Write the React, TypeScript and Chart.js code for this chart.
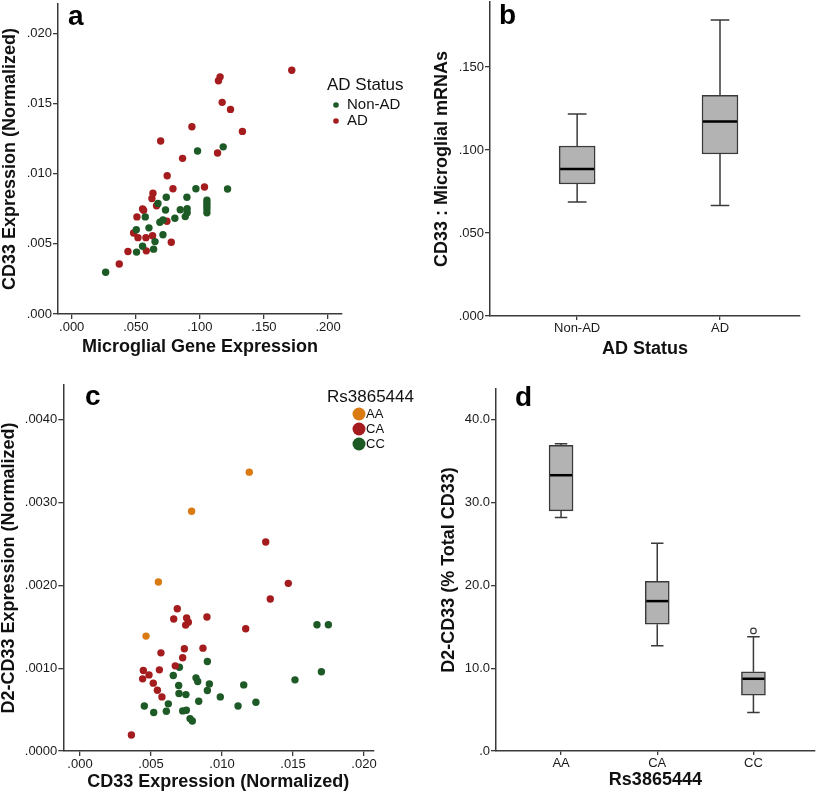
import React, { useEffect, useRef } from 'react';
import { Chart, registerables } from 'chart.js';

Chart.register(...registerables);

const W = 820;
const H = 795;
const FONT = "'Liberation Sans', Arial, Helvetica, sans-serif";
const AXIS_COLOR = '#3a3a3a';
const TEXT_COLOR = '#111111';
const RED = '#a51c1e';
const GREEN = '#1d5a26';
const ORANGE = '#d97a12';
const BOX_FILL = '#b3b3b3';
const BOX_LINE = '#3a3a3a';

// ---------- Panel a: CD33 vs microglial gene expression ----------
const aNonAdX = [0.1182, 0.0982, 0.1216, 0.0969, 0.0899, 0.0738, 0.1055, 0.1055, 0.1055, 0.1055, 0.1055, 0.0673, 0.0732, 0.0847, 0.0901, 0.0901, 0.0886, 0.0574, 0.0805, 0.0712, 0.0688, 0.0603, 0.0504, 0.0712, 0.065, 0.0553, 0.0639, 0.0506, 0.0265];
const aNonAdY = [0.01191, 0.01161, 0.00891, 0.00893, 0.00832, 0.00832, 0.00811, 0.0079, 0.00769, 0.00748, 0.00722, 0.00788, 0.00741, 0.00743, 0.0075, 0.00722, 0.00694, 0.00692, 0.00682, 0.0067, 0.00654, 0.00614, 0.006, 0.00565, 0.00516, 0.00483, 0.00462, 0.00441, 0.00298];
const aAdX = [0.1717, 0.1158, 0.1145, 0.1174, 0.1239, 0.1332, 0.0938, 0.0694, 0.1138, 0.0865, 0.0745, 0.079, 0.1036, 0.0634, 0.0626, 0.0662, 0.0561, 0.0553, 0.0509, 0.0743, 0.0483, 0.0517, 0.0579, 0.0631, 0.0777, 0.0582, 0.0439, 0.0371];
const aAdY = [0.01737, 0.0169, 0.01662, 0.01508, 0.01458, 0.01301, 0.01334, 0.01233, 0.01147, 0.01109, 0.00985, 0.00893, 0.00905, 0.0086, 0.00823, 0.00771, 0.00739, 0.00748, 0.00692, 0.00661, 0.00577, 0.00544, 0.00544, 0.00558, 0.00511, 0.0045, 0.00445, 0.00356];
const aXTicks = [0, 0.05, 0.1, 0.15, 0.2];
const aYTicks = [0, 0.005, 0.01, 0.015, 0.02];
const aLegendTitle = 'AD Status';

// ---------- Panel b: CD33 : microglial mRNAs by AD status ----------
const bCategories = ['Non-AD', 'AD'];
const bMin = [0.0687, 0.0665];
const bQ1 = [0.0795, 0.0976];
const bMedian = [0.0886, 0.1171];
const bQ3 = [0.1024, 0.1329];
const bMax = [0.1217, 0.1783];
const bYTicks = [0, 0.05, 0.1, 0.15];

// ---------- Panel c: D2-CD33 vs CD33 by genotype ----------
const cAAX = [0.01192, 0.00786, 0.00552, 0.00465];
const cAAY = [0.003367, 0.002895, 0.00204, 0.001387];
const cCAX = [0.01308, 0.01467, 0.0134, 0.01167, 0.00685, 0.0066, 0.00751, 0.00763, 0.00744, 0.00894, 0.00735, 0.00866, 0.0057, 0.00723, 0.00671, 0.00446, 0.00559, 0.00486, 0.00441, 0.00516, 0.00545, 0.00577, 0.00362];
const cCAY = [0.002524, 0.002024, 0.001835, 0.001476, 0.001718, 0.001593, 0.001605, 0.001556, 0.00152, 0.001617, 0.001234, 0.001242, 0.001185, 0.001125, 0.001028, 0.000972, 0.00098, 0.000919, 0.000871, 0.000819, 0.000734, 0.000653, 0.000194];
const cCCX = [0.01669, 0.01749, 0.017, 0.01514, 0.01153, 0.01239, 0.01113, 0.00988, 0.00897, 0.00911, 0.00897, 0.00817, 0.00829, 0.00836, 0.007, 0.00657, 0.00695, 0.00697, 0.00746, 0.00622, 0.00608, 0.00723, 0.00749, 0.00775, 0.00791, 0.00519, 0.00453];
const cCCY = [0.001524, 0.001524, 0.000956, 0.000859, 0.000798, 0.000589, 0.000544, 0.000653, 0.001081, 0.00081, 0.00073, 0.000883, 0.000839, 0.000601, 0.001012, 0.000911, 0.00079, 0.000694, 0.000681, 0.000569, 0.00048, 0.000484, 0.000492, 0.000391, 0.000363, 0.000464, 0.000544];
const cXTicks = [0, 0.005, 0.01, 0.015, 0.02];
const cYTicks = [0, 0.001, 0.002, 0.003, 0.004];
const cLegendTitle = 'Rs3865444';

// ---------- Panel d: D2-CD33 % by genotype ----------
const dCategories = ['AA', 'CA', 'CC'];
const dMin = [28.2, 12.7, 4.66];
const dQ1 = [29.0, 15.3, 6.75];
const dMedian = [33.3, 18.1, 8.72];
const dQ3 = [36.9, 20.5, 9.57];
const dMax = [37.1, 25.1, 13.8];
const dOutlierCat = [3];
const dOutlierVal = [14.5];
const dYTicks = [0, 10, 20, 30, 40];

const zip = (xs: number[], ys: number[]) => xs.map((x, i) => ({ x, y: ys[i] }));
const fmtDec = (d: number) => (v: number) => Number(v).toFixed(d).replace(/^0\./, '.');

function linAxis(o: any) {
  return {
    type: 'linear',
    min: o.min,
    max: o.max,
    offset: false,
    afterBuildTicks: (s: any) => {
      s.ticks = o.ticks.map((v: number) => ({ value: v }));
    },
    afterFit: (s: any) => {
      if (o.horizontal) s.height = o.size;
      else s.width = o.size;
      s.paddingTop = 0;
      s.paddingBottom = 0;
      s.paddingLeft = 0;
      s.paddingRight = 0;
    },
    grid: {
      display: true,
      offset: false,
      drawOnChartArea: false,
      drawTicks: true,
      tickLength: o.tickLength ?? 5,
      color: AXIS_COLOR,
      lineWidth: 1.3,
    },
    border: { display: true, color: AXIS_COLOR, width: 1.5 },
    ticks: {
      callback: (v: number) => o.fmt(v),
      font: { family: FONT, size: 13 },
      color: '#1a1a1a',
      padding: o.tickPad ?? 1,
      autoSkip: false,
      maxRotation: 0,
      minRotation: 0,
    },
    title: {
      display: true,
      text: o.title,
      color: TEXT_COLOR,
      padding: 0,
      font: { family: FONT, size: 18, weight: 'bold', lineHeight: 1 },
    },
  };
}

function decorPlugin(letter: string, lx: number, ly: number, legend: any) {
  return {
    id: 'decor' + letter,
    afterDraw(chart: any) {
      const ctx = chart.ctx;
      ctx.save();
      ctx.fillStyle = '#000';
      ctx.font = `bold 28px ${FONT}`;
      ctx.textAlign = 'left';
      ctx.textBaseline = 'alphabetic';
      ctx.fillText(letter, lx, ly);
      if (legend) {
        ctx.font = `17px ${FONT}`;
        ctx.textBaseline = 'middle';
        ctx.fillStyle = '#111';
        ctx.fillText(legend.title, legend.titleX, legend.titleY);
        ctx.font = `${legend.itemFont}px ${FONT}`;
        chart.data.datasets.forEach((ds: any, i: number) => {
          const y = legend.itemY + i * legend.itemStep;
          ctx.beginPath();
          ctx.fillStyle = ds.backgroundColor;
          ctx.arc(legend.dotX, y, legend.dotR, 0, Math.PI * 2);
          ctx.fill();
          ctx.fillStyle = '#111';
          ctx.fillText(ds.label, legend.textX, y);
        });
      }
      ctx.restore();
    },
  };
}

function boxPlugin(id: string, cats: string[], mins: number[], medians: number[], maxs: number[], q1: number[], q3: number[]) {
  return {
    id,
    afterDatasetsDraw(chart: any) {
      const { ctx } = chart;
      const xs = chart.scales.x;
      const ys = chart.scales.y;
      const meta = chart.getDatasetMeta(0);
      ctx.save();
      cats.forEach((_, i) => {
        const cx = xs.getPixelForValue(i + 1);
        const bw = meta.data[i] ? meta.data[i].width : 30;
        const half = bw / 2;
        const cap = bw * 0.26;
        const pMin = ys.getPixelForValue(mins[i]);
        const pMax = ys.getPixelForValue(maxs[i]);
        const pQ1 = ys.getPixelForValue(q1[i]);
        const pQ3 = ys.getPixelForValue(q3[i]);
        const pMed = ys.getPixelForValue(medians[i]);
        ctx.strokeStyle = BOX_LINE;
        ctx.lineWidth = 1.5;
        ctx.beginPath();
        ctx.moveTo(cx, pQ3);
        ctx.lineTo(cx, pMax);
        ctx.moveTo(cx - cap, pMax);
        ctx.lineTo(cx + cap, pMax);
        ctx.moveTo(cx, pQ1);
        ctx.lineTo(cx, pMin);
        ctx.moveTo(cx - cap, pMin);
        ctx.lineTo(cx + cap, pMin);
        ctx.stroke();
        ctx.strokeStyle = '#000';
        ctx.lineWidth = 2.5;
        ctx.beginPath();
        ctx.moveTo(cx - half + 1, pMed);
        ctx.lineTo(cx + half - 1, pMed);
        ctx.stroke();
      });
      ctx.restore();
    },
  };
}

const baseOptions = {
  responsive: false,
  maintainAspectRatio: false,
  animation: false,
  events: [],
};

function configA() {
  return {
    type: 'scatter',
    data: {
      datasets: [
        { label: 'Non-AD', data: zip(aNonAdX, aNonAdY), backgroundColor: GREEN, borderWidth: 0, pointRadius: 3.7 },
        { label: 'AD', data: zip(aAdX, aAdY), backgroundColor: RED, borderWidth: 0, pointRadius: 3.7 },
      ],
    },
    options: {
      ...baseOptions,
      layout: { padding: { left: 1, top: 0, right: W - 342, bottom: H - 356.5 } },
      plugins: { legend: { display: false }, tooltip: { enabled: false } },
      scales: {
        x: linAxis({ min: -0.01069, max: 0.2109, ticks: aXTicks, fmt: fmtDec(3), title: 'Microglial Gene Expression', horizontal: true, size: 42.5 }),
        y: linAxis({ min: 0, max: 0.02209, ticks: aYTicks, fmt: fmtDec(3), title: 'CD33 Expression (Normalized)', horizontal: false, size: 57 }),
      },
    },
    plugins: [decorPlugin('a', 68, 25, { title: aLegendTitle, titleX: 327, titleY: 85, itemFont: 15, itemY: 105, itemStep: 16, dotX: 336, dotR: 2.8, textX: 347 })],
  };
}

function configB() {
  return {
    type: 'bar',
    data: {
      datasets: [
        {
          label: 'box',
          data: bQ1.map((q, i) => ({ x: i + 1, y: [q, bQ3[i]] })),
          backgroundColor: BOX_FILL,
          borderColor: BOX_LINE,
          borderWidth: 1.5,
          borderSkipped: false,
          barThickness: 36,
        },
      ],
    },
    options: {
      ...baseOptions,
      layout: { padding: { left: 432.7, top: 2, right: W - 800, bottom: H - 358 } },
      plugins: { legend: { display: false }, tooltip: { enabled: false } },
      scales: {
        x: linAxis({ min: 0.39, max: 2.56, ticks: [1, 2], fmt: (v: number) => bCategories[Math.round(v) - 1], title: 'AD Status', horizontal: true, size: 42, tickLength: 4 }),
        y: linAxis({ min: 0, max: 0.18916, ticks: bYTicks, fmt: fmtDec(3), title: 'CD33 : Microglial mRNAs', horizontal: false, size: 57.3 }),
      },
    },
    plugins: [boxPlugin('boxB', bCategories, bMin, bMedian, bMax, bQ1, bQ3), decorPlugin('b', 499, 24, null)],
  };
}

function configC() {
  return {
    type: 'scatter',
    data: {
      datasets: [
        { label: 'AA', data: zip(cAAX, cAAY), backgroundColor: ORANGE, borderWidth: 0, pointRadius: 3.7 },
        { label: 'CA', data: zip(cCAX, cCAY), backgroundColor: RED, borderWidth: 0, pointRadius: 3.7 },
        { label: 'CC', data: zip(cCCX, cCCY), backgroundColor: GREEN, borderWidth: 0, pointRadius: 3.7 },
      ],
    },
    options: {
      ...baseOptions,
      layout: { padding: { left: 0, top: 385, right: W - 373.3, bottom: H - 791.5 } },
      plugins: { legend: { display: false }, tooltip: { enabled: false } },
      scales: {
        x: linAxis({ min: -0.001176, max: 0.020655, ticks: cXTicks, fmt: fmtDec(3), title: 'CD33 Expression (Normalized)', horizontal: true, size: 40.5 }),
        y: linAxis({ min: 0, max: 0.004419, ticks: cYTicks, fmt: fmtDec(4), title: 'D2-CD33 Expression (Normalized)', horizontal: false, size: 63.3 }),
      },
    },
    plugins: [decorPlugin('c', 85, 405, { title: cLegendTitle, titleX: 327, titleY: 397, itemFont: 13, itemY: 414, itemStep: 15, dotX: 359, dotR: 6.5, textX: 366 })],
  };
}

function configD() {
  return {
    type: 'bar',
    data: {
      datasets: [
        {
          type: 'bar',
          label: 'box',
          data: dQ1.map((q, i) => ({ x: i + 1, y: [q, dQ3[i]] })),
          backgroundColor: BOX_FILL,
          borderColor: BOX_LINE,
          borderWidth: 1.5,
          borderSkipped: false,
          barThickness: 24,
          order: 2,
        },
        {
          type: 'scatter',
          label: 'outlier',
          data: zip(dOutlierCat, dOutlierVal),
          backgroundColor: '#ffffff',
          borderColor: BOX_LINE,
          borderWidth: 1.2,
          pointRadius: 2.8,
          order: 1,
        },
      ],
    },
    options: {
      ...baseOptions,
      layout: { padding: { left: 440.2, top: 389, right: W - 818, bottom: H - 789 } },
      plugins: { legend: { display: false }, tooltip: { enabled: false } },
      scales: {
        x: linAxis({ min: 0.3237, max: 3.638, ticks: [1, 2, 3], fmt: (v: number) => dCategories[Math.round(v) - 1], title: 'Rs3865444', horizontal: true, size: 38, tickLength: 4 }),
        y: linAxis({ min: 0, max: 43.71, ticks: dYTicks, fmt: fmtDec(1), title: 'D2-CD33 (% Total CD33)', horizontal: false, size: 55.8 }),
      },
    },
    plugins: [boxPlugin('boxD', dCategories, dMin, dMedian, dMax, dQ1, dQ3), decorPlugin('d', 515, 406, null)],
  };
}

function ChartLayer({ make }: { make: () => any }) {
  const ref = useRef<HTMLCanvasElement | null>(null);
  useEffect(() => {
    const chart = new Chart(ref.current as HTMLCanvasElement, make() as any);
    return () => chart.destroy();
  }, [make]);
  return (
    <canvas
      ref={ref}
      width={W}
      height={H}
      style={{ position: 'absolute', left: 0, top: 0, width: W, height: H, pointerEvents: 'none' }}
    />
  );
}

export default function App() {
  return (
    <div style={{ position: 'absolute', left: 0, top: 0, width: W, height: H, background: '#ffffff', overflow: 'hidden' }}>
      <ChartLayer make={configA} />
      <ChartLayer make={configB} />
      <ChartLayer make={configC} />
      <ChartLayer make={configD} />
    </div>
  );
}
